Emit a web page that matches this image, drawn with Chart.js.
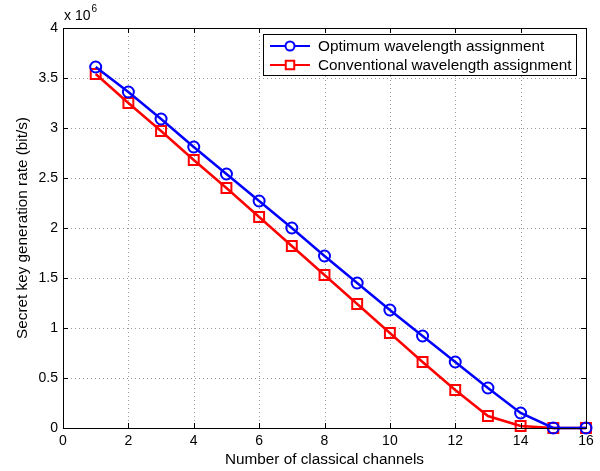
<!DOCTYPE html>
<html>
<head>
<meta charset="utf-8">
<script src="https://cdn.jsdelivr.net/npm/chart.js@4/dist/chart.umd.min.js"></script>
<style>
  html, body { margin: 0; padding: 0; background: #fff; }
  #wrap { width: 600px; height: 471px; }
</style>
</head>
<body>
<div id="wrap"><canvas id="c" width="600" height="471"></canvas></div>
<script>
// data (y in units of 1e6 bit/s)
const channels = [1, 2, 3, 4, 5, 6, 7, 8, 9, 10, 11, 12, 13, 14, 15, 16];
const optimumRate = [3.61, 3.36, 3.09, 2.81, 2.54, 2.27, 2.00, 1.72, 1.45, 1.18, 0.92, 0.66, 0.40, 0.15, 0, 0];
const conventionalRate = [3.54, 3.25, 2.97, 2.68, 2.40, 2.11, 1.82, 1.53, 1.24, 0.95, 0.66, 0.38, 0.12, 0.02, 0, 0];
const seriesNames = ['Optimum wavelength assignment', 'Conventional wavelength assignment'];
const xTicks = [0, 2, 4, 6, 8, 10, 12, 14, 16];
const yTicks = [0, 0.5, 1, 1.5, 2, 2.5, 3, 3.5, 4];

const FONT = 'Liberation Sans, Arial, Helvetica, sans-serif';

// dotted grid, box, inward ticks, exponent label and matlab-style legend
const matlabFrame = {
  id: 'matlabFrame',
  beforeDatasetsDraw(chart) {
    const { ctx, chartArea: a, scales: { x, y } } = chart;
    ctx.save();
    ctx.strokeStyle = '#9a9a9a';
    ctx.lineWidth = 1;
    ctx.setLineDash([1, 3]);
    ctx.beginPath();
    xTicks.slice(1, -1).forEach(v => {
      const px = Math.round(x.getPixelForValue(v)) + 0.5;
      ctx.moveTo(px, a.top); ctx.lineTo(px, a.bottom);
    });
    yTicks.slice(1, -1).forEach(v => {
      const py = Math.round(y.getPixelForValue(v)) + 0.5;
      ctx.moveTo(a.left, py); ctx.lineTo(a.right, py);
    });
    ctx.stroke();
    ctx.restore();
  },
  afterDatasetsDraw(chart) {
    const { ctx, chartArea: a, scales: { x, y } } = chart;
    ctx.save();
    ctx.strokeStyle = '#000';
    ctx.lineWidth = 1;
    ctx.strokeRect(a.left + 0.5, a.top + 0.5, a.right - a.left, a.bottom - a.top);
    ctx.beginPath();
    xTicks.forEach(v => {
      const px = Math.round(x.getPixelForValue(v)) + 0.5;
      ctx.moveTo(px, a.bottom); ctx.lineTo(px, a.bottom - 5);
      ctx.moveTo(px, a.top); ctx.lineTo(px, a.top + 5);
    });
    yTicks.forEach(v => {
      const py = Math.round(y.getPixelForValue(v)) + 0.5;
      ctx.moveTo(a.left, py); ctx.lineTo(a.left + 5, py);
      ctx.moveTo(a.right, py); ctx.lineTo(a.right - 5, py);
    });
    ctx.stroke();

    // x 10^6
    ctx.fillStyle = '#000';
    ctx.textBaseline = 'alphabetic';
    ctx.textAlign = 'left';
    ctx.font = '14px ' + FONT;
    ctx.fillText('x 10', a.left + 1, 20);
    const w = ctx.measureText('x 10').width;
    ctx.font = '10px ' + FONT;
    ctx.fillText('6', a.left + 1 + w + 1, 12);

    // legend
    const lx = 263, ly = 34, lw = 313, lh = 41;
    ctx.fillStyle = '#fff';
    ctx.fillRect(lx, ly, lw, lh);
    ctx.strokeStyle = '#000';
    ctx.strokeRect(lx + 0.5, ly + 0.5, lw, lh);
    ctx.font = '15.3px ' + FONT;
    ctx.textBaseline = 'middle';
    chart.data.datasets.forEach((ds, i) => {
      const cy = ly + 12 + i * 19;
      ctx.strokeStyle = ds.borderColor;
      ctx.lineWidth = 2;
      ctx.beginPath();
      ctx.moveTo(lx + 7, cy); ctx.lineTo(lx + 47, cy);
      ctx.stroke();
      ctx.fillStyle = '#fff';
      Chart.helpers.drawPoint(ctx, {
        pointStyle: ds.pointStyle, radius: ds.pointRadius - 1, borderWidth: 2
      }, lx + 27, cy);
      ctx.fillStyle = '#000';
      ctx.fillText(ds.label, lx + 55, cy + 1);
    });
    ctx.restore();
  }
};

new Chart(document.getElementById('c'), {
  type: 'line',
  data: {
    datasets: [
      {
        label: seriesNames[0],
        data: channels.map((c, i) => ({ x: c, y: optimumRate[i] })),
        borderColor: '#0000ff',
        backgroundColor: 'rgba(0,0,0,0)',
        borderWidth: 2.5,
        pointStyle: 'circle',
        pointRadius: 5.5,
        pointBorderWidth: 2,
        pointBackgroundColor: 'rgba(0,0,0,0)',
        pointBorderColor: '#0000ff',
        clip: false
      },
      {
        label: seriesNames[1],
        data: channels.map((c, i) => ({ x: c, y: conventionalRate[i] })),
        borderColor: '#ff0000',
        backgroundColor: 'rgba(0,0,0,0)',
        borderWidth: 2.5,
        pointStyle: 'rect',
        pointRadius: 7,
        pointBorderWidth: 2,
        pointBackgroundColor: 'rgba(0,0,0,0)',
        pointBorderColor: '#ff0000',
        clip: false
      }
    ]
  },
  options: {
    responsive: false,
    animation: false,
    layout: { padding: { left: 14, top: 28, right: 14, bottom: 0 } },
    plugins: { legend: { display: false }, tooltip: { enabled: false } },
    scales: {
      x: {
        type: 'linear', min: 0, max: 16,
        afterBuildTicks: s => { s.ticks = xTicks.map(v => ({ value: v })); },
        afterFit: s => { s.height = 43; },
        ticks: { color: '#000', font: { family: FONT, size: 14 }, padding: 5, maxRotation: 0,
                 callback: v => String(v) },
        grid: { display: false, drawTicks: false },
        border: { display: false },
        title: { display: true, text: 'Number of classical channels', color: '#000',
                 font: { family: FONT, size: 15.3 }, padding: { top: 0, bottom: 2 } }
      },
      y: {
        type: 'linear', min: 0, max: 4,
        afterBuildTicks: s => { s.ticks = yTicks.map(v => ({ value: v })); },
        afterFit: s => { s.width = 49; },
        ticks: { color: '#000', font: { family: FONT, size: 14 }, padding: 5,
                 callback: v => String(v) },
        grid: { display: false, drawTicks: false },
        border: { display: false },
        title: { display: true, text: 'Secret key generation rate (bit/s)', color: '#000',
                 font: { family: FONT, size: 15.3 }, padding: { top: 0, bottom: 4 } }
      }
    }
  },
  plugins: [matlabFrame]
});
</script>
</body>
</html>
